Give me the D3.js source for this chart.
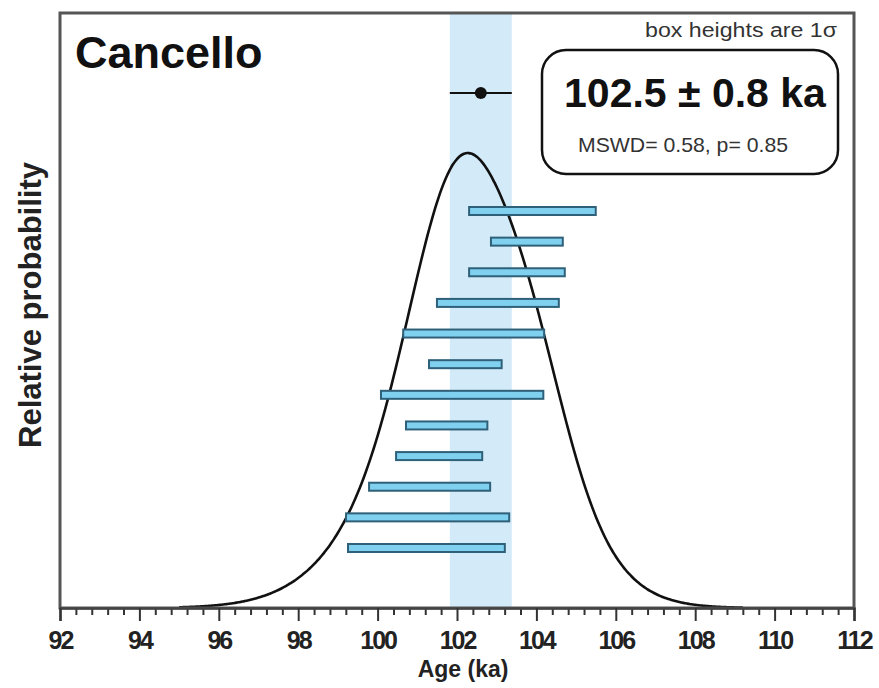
<html>
<head>
  <meta charset="utf-8" />
  <script src="https://cdn.jsdelivr.net/npm/d3@7"></script>
  <style>
    body { margin: 0; background: #fff; }
    text { font-family: "Liberation Sans", Arial, sans-serif; }
  </style>
</head>
<body>
<svg id="chart" width="879" height="688"></svg>
<script>
// single-grain ages (ka), top box first, and their 1 sigma errors
const ages = [103.90, 103.76, 103.51, 103.03, 102.42, 102.21, 102.13, 101.74, 101.55, 101.31, 101.26, 101.23]
const errs = [1.62, 0.93, 1.23, 1.56, 1.80, 0.94, 2.07, 1.05, 1.11, 1.55, 2.08, 2.00]
// weighted mean as drawn (dot + band)
const meanAge = 102.6
const meanErr = 0.78
const xTicks = [92, 94, 96, 98, 100, 102, 104, 106, 108, 110, 112]
const title = 'Cancello'
const resultLabel = '102.5 ± 0.8 ka'
const statsLabel = 'MSWD= 0.58, p= 0.85'

const svg = d3.select('#chart')
const mLeft = 60, mRight = 854, mTop = 13, mBottom = 608

const x = d3.scaleLinear().domain([92, 112]).range([mLeft, mRight])

// probability density: sum of gaussians of the grains
function pdf(t) {
  return d3.sum(ages, (a, i) => Math.exp(-0.5 * ((t - a) / errs[i]) ** 2) / errs[i])
}
const curve = d3.range(95.0, 109.21, 0.05).map(t => [t, pdf(t)])
const y = d3.scaleLinear().domain([0, d3.max(curve, d => d[1])]).range([mBottom, 153])

const rowY = d3.scalePoint().domain(d3.range(ages.length)).range([211, 548])

// mean band
svg.append('rect')
  .attr('x', x(meanAge - meanErr)).attr('y', mTop)
  .attr('width', x(meanAge + meanErr) - x(meanAge - meanErr))
  .attr('height', mBottom - mTop)
  .attr('fill', '#d3eaf8')

// curve
svg.append('path')
  .datum(curve)
  .attr('d', d3.line().x(d => x(d[0])).y(d => y(d[1])).curve(d3.curveBasis))
  .attr('fill', 'none').attr('stroke', '#111').attr('stroke-width', 2.6)

// grain boxes
svg.selectAll('rect.grain')
  .data(ages)
  .join('rect')
  .attr('class', 'grain')
  .attr('x', (d, i) => x(d - errs[i]) + 1)
  .attr('y', (d, i) => rowY(i) - 4)
  .attr('width', (d, i) => x(d + errs[i]) - x(d - errs[i]) - 2)
  .attr('height', 8)
  .attr('fill', '#80d0ef')
  .attr('stroke', '#2e6079')
  .attr('stroke-width', 2)

// mean dot + error line
svg.append('line')
  .attr('x1', x(meanAge - meanErr)).attr('x2', x(meanAge + meanErr))
  .attr('y1', 93).attr('y2', 93)
  .attr('stroke', '#111').attr('stroke-width', 2.2)
svg.append('circle')
  .attr('cx', x(meanAge)).attr('cy', 93).attr('r', 6)
  .attr('fill', '#111')

// frame
svg.append('rect')
  .attr('x', mLeft).attr('y', mTop)
  .attr('width', mRight - mLeft).attr('height', mBottom - mTop)
  .attr('fill', 'none').attr('stroke', '#555').attr('stroke-width', 3)

// minor ticks
const minor = d3.range(92, 112.01, 0.4).filter(v => Math.abs(v - Math.round(v / 2) * 2) > 0.01)
svg.append('g')
  .attr('transform', `translate(0,${mBottom})`)
  .call(d3.axisBottom(x).tickValues(minor).tickSize(7).tickFormat(''))
  .call(g => g.select('.domain').remove())
  .call(g => g.selectAll('line').attr('stroke', '#333').attr('stroke-width', 2))

// major ticks
svg.append('g')
  .attr('transform', `translate(0,${mBottom})`)
  .call(d3.axisBottom(x).tickValues(xTicks).tickSize(13).tickPadding(10))
  .call(g => g.select('.domain').attr('stroke', '#444').attr('stroke-width', 2.5))
  .call(g => g.selectAll('line').attr('stroke', '#333').attr('stroke-width', 2))
  .call(g => g.selectAll('text')
    .attr('font-family', '"Liberation Sans", Arial, sans-serif')
    .attr('font-size', 25).attr('font-weight', 'bold')
    .attr('letter-spacing', -2).attr('fill', '#222'))

// labels
svg.append('text')
  .attr('x', 463).attr('y', 677)
  .attr('text-anchor', 'middle')
  .attr('font-size', 23).attr('font-weight', 'bold').attr('fill', '#222')
  .text('Age (ka)')

svg.append('text')
  .attr('transform', 'translate(41,305) rotate(-90)')
  .attr('text-anchor', 'middle')
  .attr('font-size', 31).attr('font-weight', 'bold').attr('fill', '#222')
  .text('Relative probability')

svg.append('text')
  .attr('x', 75).attr('y', 68)
  .attr('font-size', 45).attr('font-weight', 'bold').attr('fill', '#111')
  .text(title)

svg.append('text')
  .attr('x', 645).attr('y', 37)
  .attr('font-size', 20).attr('fill', '#333')
  .attr('textLength', 192).attr('lengthAdjust', 'spacingAndGlyphs')
  .text('box heights are 1σ')

svg.append('rect')
  .attr('x', 542).attr('y', 50).attr('width', 296).attr('height', 124)
  .attr('rx', 24).attr('ry', 24)
  .attr('fill', '#fff').attr('stroke', '#111').attr('stroke-width', 2.5)

svg.append('text')
  .attr('x', 695).attr('y', 107)
  .attr('text-anchor', 'middle')
  .attr('font-size', 41).attr('font-weight', 'bold').attr('fill', '#111')
  .text(resultLabel)

svg.append('text')
  .attr('x', 578).attr('y', 152)
  .attr('font-size', 21).attr('fill', '#333')
  .attr('textLength', 210).attr('lengthAdjust', 'spacingAndGlyphs')
  .text(statsLabel)
</script>
</body>
</html>
